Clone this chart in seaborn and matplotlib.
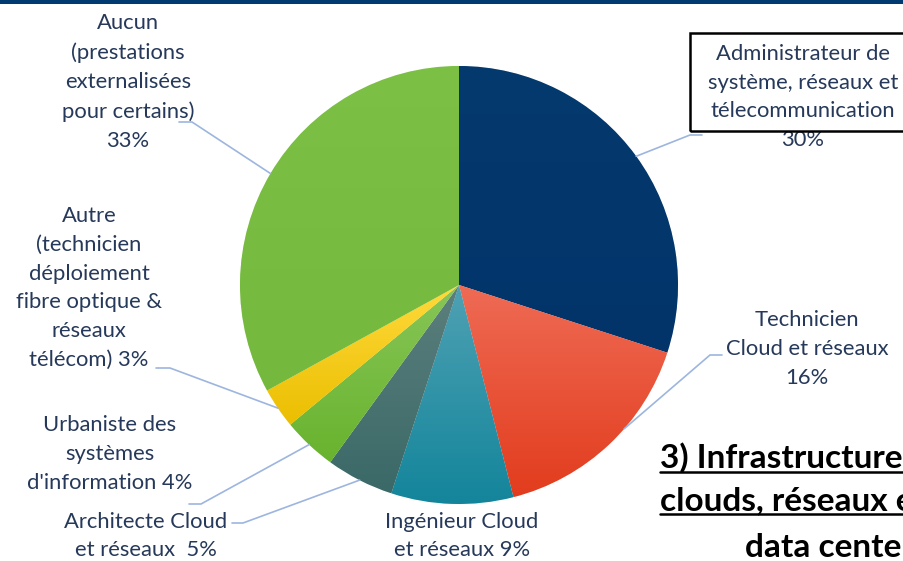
import numpy as np
import matplotlib
matplotlib.use("Agg")
import matplotlib.pyplot as plt
from matplotlib.colors import LinearSegmentedColormap
from matplotlib.patches import Rectangle
import seaborn as sns

# data
labels = [
    "Administrateur de\nsystème, réseaux et\ntélecommunication\n30%",
    "Technicien\nCloud et réseaux\n16%",
    "Ingénieur Cloud\net réseaux 9%",
    "Architecte Cloud\net réseaux  5%",
    "Urbaniste des\nsystèmes\nd'information 4%",
    "Autre\n(technicien\ndéploiement\nfibre optique &\nréseaux\ntélécom) 3%",
    "Aucun\n(prestations\nexternalisées\npour certains)\n33%",
]
values = [30, 16, 9, 5, 4, 3, 33]
# gradient colours, top -> bottom
colors_top = ["#053A6E", "#EF6B55", "#4FA1B3", "#5C7F7D", "#88C658", "#FFDA3C", "#7CC146"]
colors_bottom = ["#02346A", "#E23C1D", "#13859B", "#3A6967", "#68B32E", "#EBBE00", "#74B93E"]

title_lines = ["3) Infrastructures", "clouds, réseaux et", "data centers"]

# layout (pixel coordinates, y measured from top)
W, H = 904, 561
CENTER = (459, 285)
RADIUS = 219
label_pos = [(803, 97), (807, 349), (462, 536), (146, 536), (110, 454), (89, 288), (128, 82)]
# leader: text end, stub end, anchor fraction inside wedge
leaders = [((702, 135), (690, 135), 0.5),
           ((722, 355), (710, 355), 0.6),
           None,
           ((232, 523), (243, 523), 0.5),
           ((189, 504), (201, 504), 0.5),
           ((156, 368), (170, 368), 0.5),
           ((179, 122), (192, 122), 0.5)]
text_color = "#26395A"
leader_color = "#9DB5DF"


def py(y):
    return H - y


sns.set_theme(style="white")
plt.rcParams["font.family"] = ["Lato", "DejaVu Sans"]

fig = plt.figure(figsize=(W / 100, H / 100), dpi=100)
ax = fig.add_axes([0, 0, 1, 1])

wedges, _ = ax.pie(values, colors=colors_top, startangle=90, counterclock=False,
                   center=(CENTER[0], py(CENTER[1])), radius=RADIUS,
                   wedgeprops=dict(edgecolor="white", linewidth=0.5))

# vertical gradients clipped to each wedge
grad = np.linspace(0, 1, 256).reshape(-1, 1)
for w, ct, cb in zip(wedges, colors_top, colors_bottom):
    bb = w.get_path().get_extents()
    cmap = LinearSegmentedColormap.from_list("g", [ct, cb])
    im = ax.imshow(grad, cmap=cmap, aspect="auto", origin="upper",
                   extent=[bb.x0, bb.x1, bb.y0, bb.y1], zorder=1.5)
    im.set_clip_path(w)
    w.set_zorder(1)

ax.set_xlim(0, W)
ax.set_ylim(0, H)
ax.set_aspect("equal")
ax.axis("off")

# labels
for lab, (x, y) in zip(labels, label_pos):
    ax.text(x, py(y), lab, ha="center", va="center", fontsize=15.8,
            color=text_color, linespacing=1.55, zorder=5)

# leader lines
cx, cy = CENTER[0], py(CENTER[1])
for w, ld in zip(wedges, leaders):
    if ld is None:
        continue
    (x0, y0), (x1, y1), frac = ld
    ang = np.deg2rad(w.theta1 + frac * (w.theta2 - w.theta1))
    px, pyy = cx + RADIUS * np.cos(ang), cy + RADIUS * np.sin(ang)
    ax.plot([x0, x1, px], [py(y0), py(y1), pyy], color=leader_color, lw=1.2,
            solid_joinstyle="miter", zorder=4)

# box around the first label
ax.add_patch(Rectangle((690, py(131)), 230, 98, fill=False, edgecolor="black",
                       lw=1.8, zorder=6, clip_on=False))

# top band
ax.add_patch(Rectangle((0, py(4)), W, 4, color="#003A70", lw=0, zorder=6))

# section title, partly cut at the right edge (as in the source slide)
title_x = [660, 660, 745]
title_y = [468, 510, 557]
fig.canvas.draw()
renderer = fig.canvas.get_renderer()
for i, (t, x, y) in enumerate(zip(title_lines, title_x, title_y)):
    txt = ax.text(x, py(y), t, ha="left", va="baseline", fontsize=24,
                  fontweight="bold", color="black", zorder=6)
    if i < 2:
        bb = txt.get_window_extent(renderer).transformed(ax.transData.inverted())
        ax.plot([bb.x0, bb.x1], [py(y + 4), py(y + 4)], color="black", lw=1.8,
                zorder=6, clip_on=False)

fig.savefig("out.png", dpi=100)
